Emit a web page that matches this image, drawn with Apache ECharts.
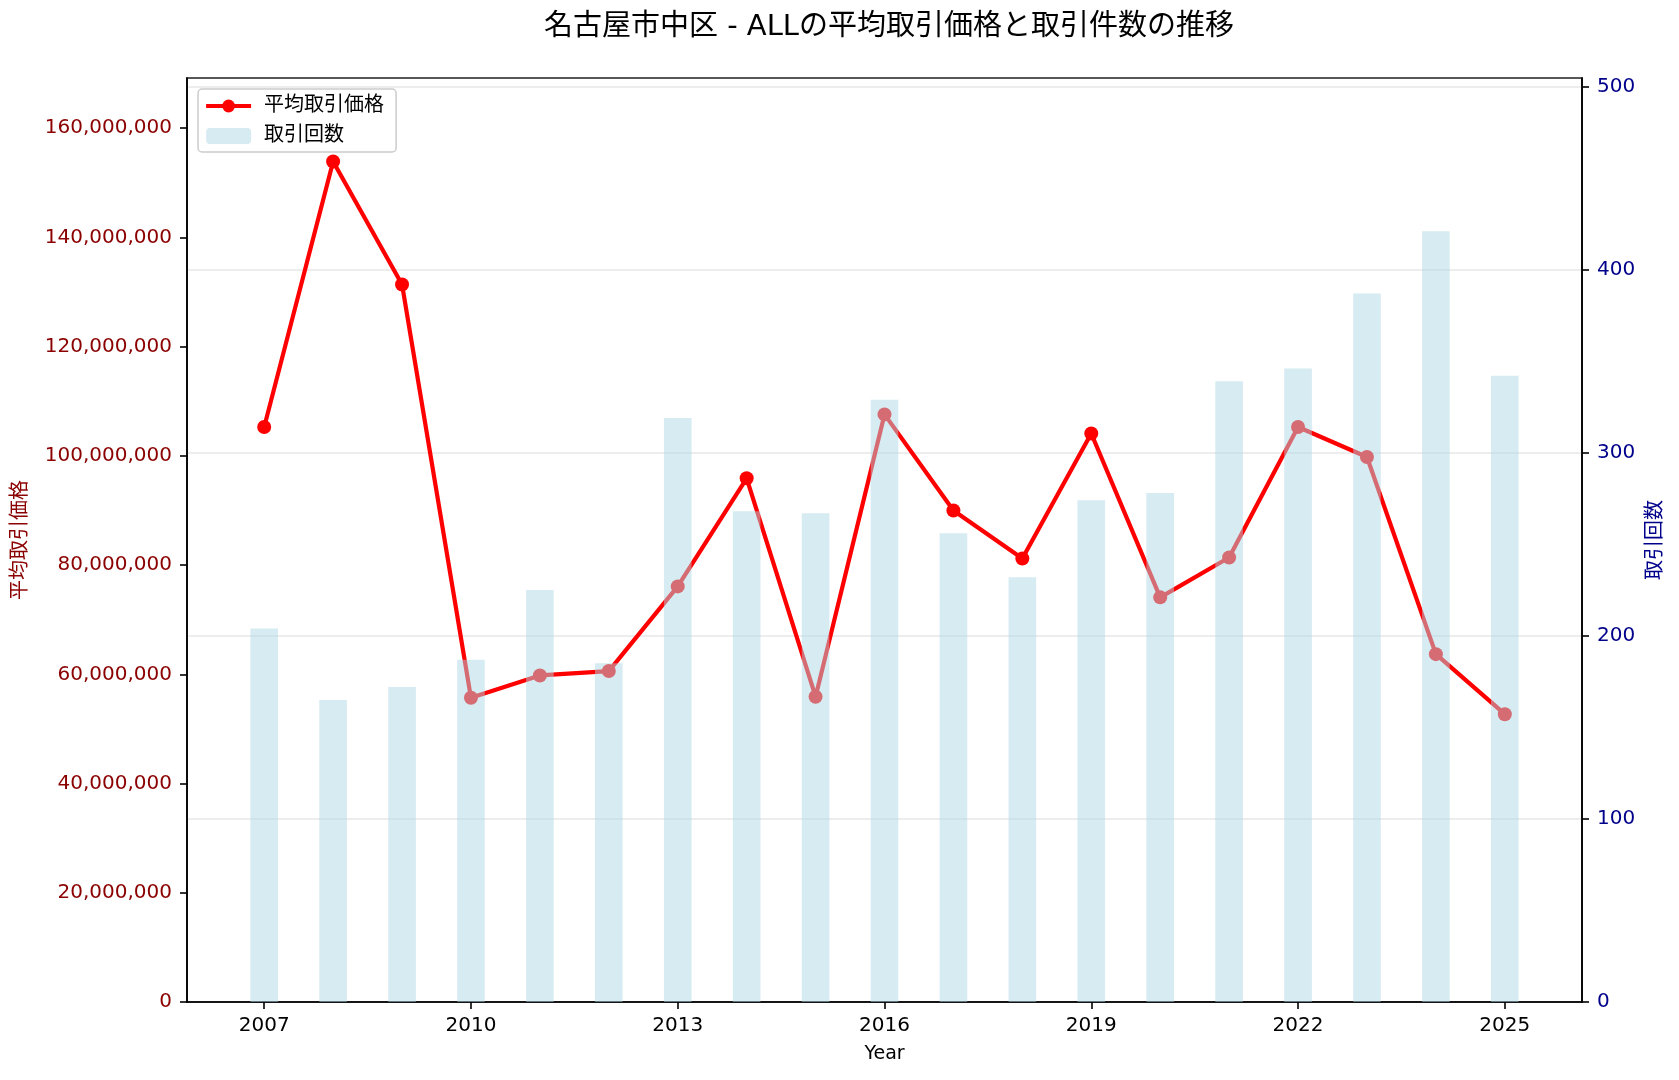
<!DOCTYPE html>
<html>
<head>
<meta charset="utf-8">
<script src="https://cdn.jsdelivr.net/npm/echarts@6/dist/echarts.min.js"></script>
<style>
html,body{margin:0;padding:0;background:#fff;}
#main{width:1679px;height:1080px;}
</style>
</head>
<body>
<div id="main"></div>
<script>
var years=[2007,2008,2009,2010,2011,2012,2013,2014,2015,2016,2017,2018,2019,2020,2021,2022,2023,2024,2025];
var avgPrice=[105300000,153900000,131400000,55700000,59800000,60600000,76100000,95900000,55900000,107600000,90000000,81200000,104100000,74100000,81400000,105300000,99800000,63700000,52700000];
var counts=[204,165,172,187,225,185,319,268,267,329,256,232,274,278,339,346,387,421,342];
var yearTicks=[2007,2010,2013,2016,2019,2022,2025];

var font='"DejaVu Sans", "Noto Sans CJK JP", sans-serif';
var mychart=echarts.init(document.getElementById("main"));

var lineData=[];
var barData=[];
for (var i=0;i<years.length;i++){
    lineData.push([years[i],avgPrice[i]]);
    barData.push([years[i],counts[i]]);
}

option = {
    backgroundColor:'#fff',
    textStyle:{fontFamily:font},
    title : {
        text: '名古屋市中区 - ALLの平均取引価格と取引件数の推移',
        left: 884,
        textAlign:'center',
        top: 8,
        textStyle:{fontFamily:font,fontSize:29,fontWeight:'normal',color:'#000'}
    },
    legend: {
        orient: 'vertical',
        left: 198,
        top: 89,
        backgroundColor:'#fff',
        borderColor:'#cccccc',
        borderWidth:1.5,
        borderRadius:4,
        padding:[7,12,6,6],
        itemGap:10,
        itemWidth:45,
        itemHeight:16,
        lineStyle:{width:4.2},
        textStyle:{fontFamily:font,fontSize:20,color:'#000',padding:[0,0,0,8]},
        data: ['平均取引価格','取引回数']
    },
    grid:{
        left:187,right:97,top:78,bottom:78,
        show:true,borderColor:'#000',borderWidth:1.6,backgroundColor:'transparent'
    },
    xAxis:{
        type:'value',
        min:2005.88,
        max:2026.12,
        name:'Year',
        nameLocation:'middle',
        nameGap:43,
        nameTextStyle:{fontFamily:font,fontSize:19,color:'#000'},
        axisLine:{show:true,lineStyle:{color:'#000',width:1.6}},
        axisTick:{show:true,length:7,lineStyle:{color:'#000',width:1.6},customValues:yearTicks},
        axisLabel:{fontFamily:font,fontSize:20,color:'#000',margin:14,customValues:yearTicks,
            formatter:function(v){return String(v);}},
        splitLine:{show:false}
    },
    yAxis:[
        {
            type:'value',
            min:0,
            max:169200000,
            interval:20000000,
            name:'平均取引価格',
            nameLocation:'middle',
            nameRotate:90,
            nameGap:156,
            nameTextStyle:{fontFamily:font,fontSize:20,color:'#8b0000'},
            axisLine:{show:true,lineStyle:{color:'#000',width:1.6}},
            axisTick:{show:true,length:7,lineStyle:{color:'#000',width:1.6}},
            axisLabel:{fontFamily:font,fontSize:20,color:'#8b0000',margin:15,showMaxLabel:false,
                formatter:function(v){return v.toLocaleString('en-US');}},
            splitLine:{show:false}
        },
        {
            type:'value',
            min:0,
            max:504.7,
            interval:100,
            name:'取引回数',
            nameLocation:'middle',
            nameRotate:90,
            nameGap:60,
            nameTextStyle:{fontFamily:font,fontSize:20,color:'#00008b'},
            axisLine:{show:true,lineStyle:{color:'#000',width:1.6}},
            axisTick:{show:true,length:7,lineStyle:{color:'#000',width:1.6}},
            axisLabel:{fontFamily:font,fontSize:20,color:'#00008b',margin:15,showMaxLabel:false},
            splitLine:{show:true,lineStyle:{color:'rgba(176,176,176,0.3)',width:1.6}}
        }
    ],
    series : [
        {
            name: '平均取引価格',
            type: 'line',
            yAxisIndex:0,
            data: lineData,
            symbol:'circle',
            symbolSize:14,
            z:2,
            lineStyle:{color:'#ff0000',width:4.2},
            itemStyle:{color:'#ff0000'}
        },
        {
            name: '取引回数',
            type: 'bar',
            yAxisIndex:1,
            data: barData,
            barWidth:27.6,
            z:5,
            itemStyle:{color:'rgba(173,216,230,0.5)'}
        }
    ]
};
mychart.setOption(option);
</script>
</body>
</html>
